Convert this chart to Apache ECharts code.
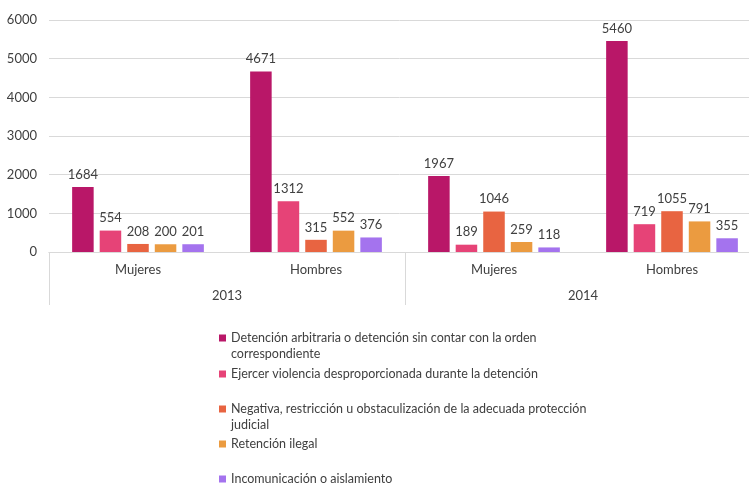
<!DOCTYPE html>
<html>
<head>
<meta charset="utf-8">
<script src="https://cdn.jsdelivr.net/npm/echarts@6/dist/echarts.min.js"></script>
<style>
  html, body { margin: 0; padding: 0; background: #fff; }
  #main { width: 749px; height: 483px; }
</style>
</head>
<body>
<div id="main"></div>
<script>
// categorias (nivel inferior y superior)
var sexos = ['Mujeres', 'Hombres', 'Mujeres', 'Hombres'];
var anios = ['2013', '2014'];

var nombres = [
    'Detención arbitraria o detención sin contar con la orden\ncorrespondiente',
    'Ejercer violencia desproporcionada durante la detención',
    'Negativa, restricción u obstaculización de la adecuada protección\njudicial',
    'Retención ilegal',
    'Incomunicación o aislamiento'
];
var detencion = [1684, 4671, 1967, 5460];
var violencia = [554, 1312, 189, 719];
var negativa = [208, 315, 1046, 1055];
var retencion = [200, 552, 259, 791];
var incomunicacion = [201, 376, 118, 355];

var colores = ['#b91768', '#e64377', '#e86441', '#eb9b40', '#a473ee'];
var yTicks = [0, 1000, 2000, 3000, 4000, 5000, 6000];

var fuente = 'Lato';
var gris = '#404040';
var linea = '#d9d9d9';

function chart() {
    var myChart = echarts.init(document.getElementById('main'));
    var valores = [detencion, violencia, negativa, retencion, incomunicacion];
    // posicion vertical de cada leyenda (primera linea)
    var legendTops = [337, 373, 408, 443, 478];

    var series = valores.map(function (v, i) {
        return {
            name: nombres[i],
            type: 'bar',
            xAxisIndex: 0,
            data: v,
            barGap: '28%',
            barCategoryGap: '26%',
            itemStyle: { color: colores[i] },
            label: {
                show: true,
                position: 'top',
                distance: 6,
                color: gris,
                fontFamily: fuente,
                fontSize: 13
            }
        };
    });

    var legends = nombres.map(function (n, i) {
        var dos = n.indexOf('\n') >= 0;
        return {
            orient: 'vertical',
            left: 214,
            top: dos ? legendTops[i] - 28 : legendTops[i] - 12,
            data: [n],
            icon: 'rect',
            itemWidth: 7,
            itemHeight: 7,
            itemGap: 0,
            formatter: function (name) { return dos ? '\n' + name : name; },
            textStyle: {
                color: gris,
                fontFamily: fuente,
                fontSize: 12.5,
                lineHeight: 16
            }
        };
    });

    var options = {
        animation: false,
        textStyle: { fontFamily: fuente },
        grid: { left: 49, right: -12, top: 20, bottom: 231, outerBoundsMode: 'none' },
        legend: legends,
        xAxis: [{
            type: 'category',
            data: sexos,
            axisLine: { lineStyle: { color: linea } },
            axisTick: { show: false },
            axisLabel: { color: gris, fontFamily: fuente, fontSize: 13, margin: 11 }
        }, {
            type: 'category',
            data: anios,
            position: 'bottom',
            axisLine: { show: true, lineStyle: { color: linea } },
            axisTick: { show: true, length: 53, lineStyle: { color: linea } },
            axisLabel: { color: gris, fontFamily: fuente, fontSize: 13, margin: 37 }
        }],
        yAxis: {
            type: 'value',
            min: yTicks[0],
            max: yTicks[yTicks.length - 1],
            interval: 1000,
            axisLine: { show: false },
            axisTick: { show: false },
            axisLabel: {
                color: gris, fontFamily: fuente, fontSize: 13, margin: 12,
                formatter: function (v) { return String(v); }
            },
            splitLine: { lineStyle: { color: linea } }
        },
        series: series
    };
    myChart.setOption(options);
}
chart();
</script>
</body>
</html>
